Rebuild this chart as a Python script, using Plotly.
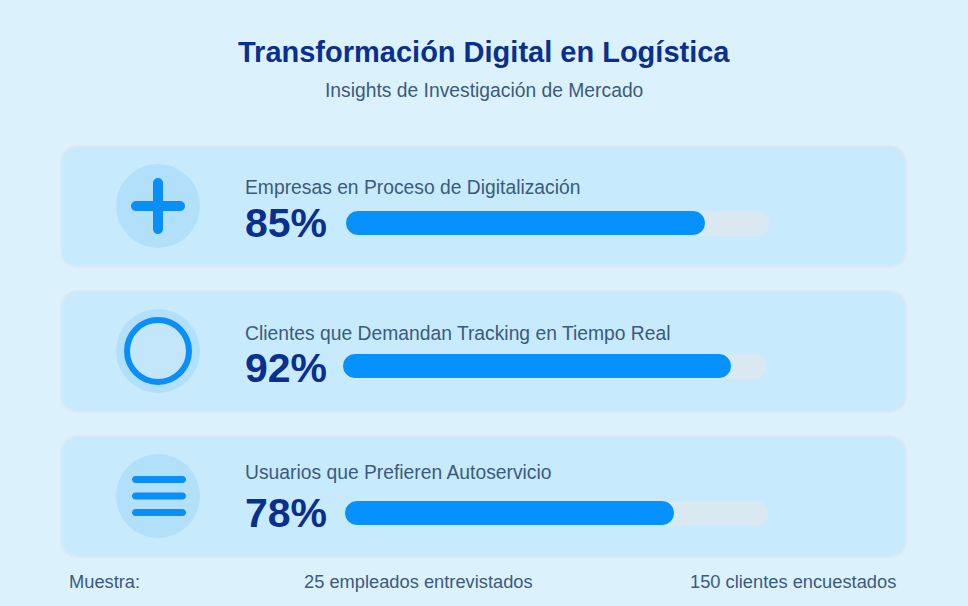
import plotly.graph_objects as go

# ---------------- data ----------------
title = "Transformación Digital en Logística"
subtitle = "Insights de Investigación de Mercado"
categories = [
    "Empresas en Proceso de Digitalización",
    "Clientes que Demandan Tracking en Tiempo Real",
    "Usuarios que Prefieren Autoservicio",
]
values = [85, 92, 78]
icons = ["plus", "circle", "menu"]
footer_labels = ["Muestra:", "25 empleados entrevistados", "150 clientes encuestados"]
scale_max = 100

# ---------------- layout helpers (pixel -> paper) ----------------
W, H = 968, 606
def X(px): return px / W
def Y(py): return 1 - py / H

def rrect(x0, y0, x1, y1, r):
    k = 0.5523 * r
    p = [f"M {X(x0+r)},{Y(y0)}",
         f"L {X(x1-r)},{Y(y0)}",
         f"C {X(x1-r+k)},{Y(y0)} {X(x1)},{Y(y0+r-k)} {X(x1)},{Y(y0+r)}",
         f"L {X(x1)},{Y(y1-r)}",
         f"C {X(x1)},{Y(y1-r+k)} {X(x1-r+k)},{Y(y1)} {X(x1-r)},{Y(y1)}",
         f"L {X(x0+r)},{Y(y1)}",
         f"C {X(x0+r-k)},{Y(y1)} {X(x0)},{Y(y1-r+k)} {X(x0)},{Y(y1-r)}",
         f"L {X(x0)},{Y(y0+r)}",
         f"C {X(x0)},{Y(y0+r-k)} {X(x0+r-k)},{Y(y0)} {X(x0+r)},{Y(y0)}",
         "Z"]
    return " ".join(p)

FONT = "Liberation Sans, Arial, sans-serif"
DARK = "#0b2f8c"
SLATE = "#3b5a7e"
BLUE = "#0a8ef8"
FILL = "#0791fc"
TRACK = "#d9e8f1"
CARD = "#c7ebfc"
ICONBG = "#b2dffa"

# per-row geometry (pixels)
rows = [
    dict(top=146, label_y=187, pct_y=223, bar=(346, 769, 211, 236), icon_y=206),
    dict(top=291, label_y=333, pct_y=368, bar=(343, 766, 354, 379), icon_y=351),
    dict(top=436, label_y=472, pct_y=513, bar=(345, 768, 501, 526), icon_y=496),
]

fig = go.Figure()
shapes = []
annotations = []
layout_axes = {}

for i, (cat, val, ic, g) in enumerate(zip(categories, values, icons, rows)):
    n = "" if i == 0 else str(i + 1)
    xa, ya = "x" + n, "y" + n
    bx0, bx1, by0, by1 = g["bar"]
    # track (full scale) and value bar, both pill-shaped
    fig.add_trace(go.Bar(x=[scale_max], base=[0], y=[cat], orientation="h", xaxis=xa, yaxis=ya,
                         marker=dict(color=TRACK, cornerradius="50%", line=dict(width=0)),
                         hoverinfo="skip", showlegend=False))
    fig.add_trace(go.Bar(x=[val], base=[0], y=[cat], orientation="h", xaxis=xa, yaxis=ya,
                         marker=dict(color=FILL, cornerradius="50%",
                                     line=dict(width=1, color="rgba(255,255,255,0.7)")),
                         hovertemplate="%{y}: %{x}%<extra></extra>", showlegend=False))
    layout_axes["xaxis" + n] = dict(domain=[X(bx0), X(bx1)], range=[0, scale_max], visible=False,
                                    fixedrange=True, anchor=ya)
    layout_axes["yaxis" + n] = dict(domain=[Y(by1), Y(by0)], visible=False, fixedrange=True,
                                    anchor=xa, type="category")

    top = g["top"]
    shapes.append(dict(type="path", path=rrect(61, top, 906, top + 121, 16), xref="paper", yref="paper",
                       fillcolor=CARD, line=dict(color="#dde9f2", width=2), layer="below"))
    cy = g["icon_y"]
    cx = 158
    shapes.append(dict(type="circle", xref="paper", yref="paper",
                       x0=X(cx - 42), x1=X(cx + 42), y0=Y(cy + 42), y1=Y(cy - 42),
                       fillcolor=ICONBG, line=dict(width=0), layer="below"))
    if ic == "plus":
        shapes.append(dict(type="path", path=rrect(131, cy - 5, 185, cy + 5, 5), xref="paper", yref="paper",
                           fillcolor=BLUE, line=dict(width=0), layer="below"))
        shapes.append(dict(type="path", path=rrect(cx - 5, cy - 28, cx + 5, cy + 28, 5), xref="paper", yref="paper",
                           fillcolor=BLUE, line=dict(width=0), layer="below"))
    elif ic == "circle":
        shapes.append(dict(type="circle", xref="paper", yref="paper",
                           x0=X(cx - 31), x1=X(cx + 31), y0=Y(cy + 31), y1=Y(cy - 31),
                           fillcolor="#c4e6fb", line=dict(color=BLUE, width=6), layer="below"))
    else:
        for dy in (-16.5, 0, 16.5):
            shapes.append(dict(type="path", path=rrect(132, cy + dy - 3.5, 186, cy + dy + 3.5, 3.5),
                               xref="paper", yref="paper", fillcolor=BLUE, line=dict(width=0), layer="below"))

    annotations.append(dict(text=cat, x=X(243), y=Y(g["label_y"]), xref="paper", yref="paper",
                            xanchor="left", yanchor="middle", showarrow=False,
                            font=dict(family=FONT, size=19.3, color=SLATE)))
    annotations.append(dict(text=f"<b>{val}%</b>", x=X(243), y=Y(g["pct_y"]), xref="paper", yref="paper",
                            xanchor="left", yanchor="middle", showarrow=False,
                            font=dict(family=FONT, size=41, color=DARK)))

annotations.append(dict(text=f"<b>{title}</b>", x=0.5, y=Y(52), xref="paper", yref="paper",
                        xanchor="center", yanchor="middle", showarrow=False,
                        font=dict(family=FONT, size=29, color=DARK)))
annotations.append(dict(text=subtitle, x=0.5, y=Y(90), xref="paper", yref="paper",
                        xanchor="center", yanchor="middle", showarrow=False,
                        font=dict(family=FONT, size=19.3, color=SLATE)))

foot_pos = [(67, "left"), (418, "center"), (898, "right")]
for txt, (fx, anc) in zip(footer_labels, foot_pos):
    annotations.append(dict(text=txt, x=X(fx), y=Y(581), xref="paper", yref="paper",
                            xanchor=anc, yanchor="middle", showarrow=False,
                            font=dict(family=FONT, size=18.3, color=SLATE)))

fig.update_layout(
    width=W, height=H,
    margin=dict(l=0, r=0, t=0, b=0),
    paper_bgcolor="#dbf2fd",
    plot_bgcolor="rgba(0,0,0,0)",
    barmode="overlay",
    bargap=0,
    shapes=shapes,
    annotations=annotations,
    showlegend=False,
    **layout_axes,
)

fig.write_html("out.html", config={"displayModeBar": False})
